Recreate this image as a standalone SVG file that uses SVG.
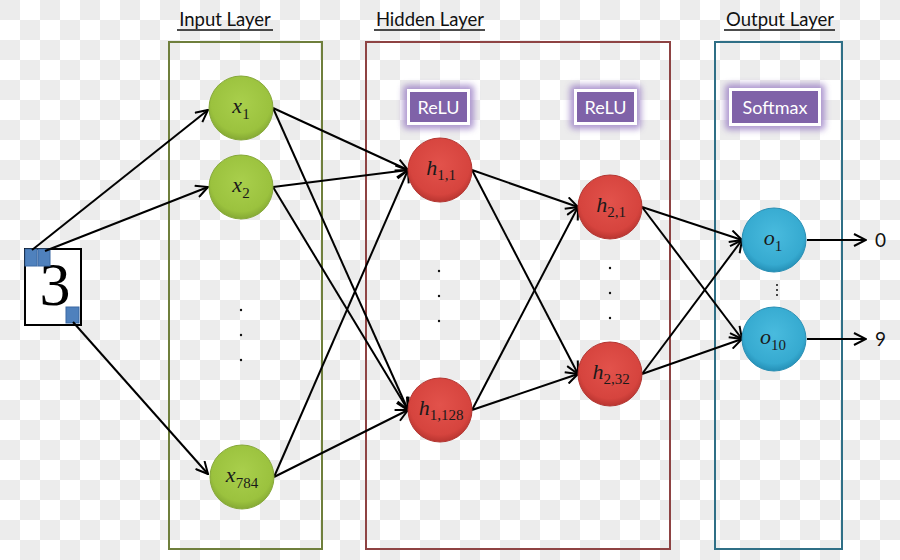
<svg xmlns="http://www.w3.org/2000/svg" width="900" height="560" viewBox="0 0 900 560">
<defs>
<pattern id="chk" width="40" height="40" patternUnits="userSpaceOnUse">
<rect width="40" height="40" fill="#ffffff"/>
<rect width="20" height="20" fill="#ececec"/>
<rect x="20" y="20" width="20" height="20" fill="#ececec"/>
</pattern>
<radialGradient id="gGreen" cx="50%" cy="42%" r="58%">
<stop offset="0" stop-color="#a9cf4c"/><stop offset="0.8" stop-color="#9bc23e"/><stop offset="1" stop-color="#85a934"/>
</radialGradient>
<radialGradient id="gRed" cx="50%" cy="42%" r="58%">
<stop offset="0" stop-color="#e2524b"/><stop offset="0.8" stop-color="#d6443e"/><stop offset="1" stop-color="#b93530"/>
</radialGradient>
<radialGradient id="gBlue" cx="50%" cy="42%" r="58%">
<stop offset="0" stop-color="#49bbde"/><stop offset="0.8" stop-color="#36aad0"/><stop offset="1" stop-color="#2590b7"/>
</radialGradient>
<filter id="glow" x="-30%" y="-40%" width="160%" height="180%">
<feGaussianBlur stdDeviation="3"/>
</filter>
<marker id="arr" viewBox="0 0 14 14" refX="13" refY="7" markerWidth="14" markerHeight="14" markerUnits="userSpaceOnUse" orient="auto">
<path d="M1,1 L13,7 L1,13" fill="none" stroke="#000" stroke-width="2" stroke-linejoin="miter"/>
</marker>
</defs>
<style>
.hdr{font-family:Lato,"Open Sans","Liberation Sans",sans-serif;font-size:18.5px;fill:#111;text-anchor:middle}
.ul{stroke:#111;stroke-width:1.3}
.lay{fill:none;stroke-width:2}
.edge{stroke:#000;stroke-width:2;fill:none;marker-end:url(#arr)}
.lbl{font-family:"Liberation Serif","DejaVu Serif",serif;font-size:22px;fill:#1a1a1a;text-anchor:middle}
.it{font-style:italic}
.sub{font-size:15px}
.act{fill:#7f62a8;stroke:#ffffff;stroke-width:3}
.actglow{fill:#9a7fc4;opacity:0.8}
.actt{font-family:Lato,"Open Sans","Liberation Sans",sans-serif;font-size:18px;fill:#ffffff;text-anchor:middle}
.dot{fill:#111}
.out{font-family:Lato,"Open Sans","Liberation Sans",sans-serif;font-size:19px;fill:#111}
.px{fill:#4f81bd;stroke:#3a69a3;stroke-width:1}
</style>
<rect width="900" height="560" fill="url(#chk)"/>

<g id="headers">
<text class="hdr" x="225" y="26">Input Layer</text>
<line class="ul" x1="177" y1="30" x2="273" y2="30"/>
<text class="hdr" x="430" y="26">Hidden Layer</text>
<line class="ul" x1="374" y1="30" x2="485" y2="30"/>
<text class="hdr" x="780" y="26">Output Layer</text>
<line class="ul" x1="724" y1="30" x2="835" y2="30"/>
</g>

<g id="layers">
<rect id="inputLayer" class="lay" x="169" y="42" width="153" height="507" stroke="#6f7f3c"/>
<rect id="hiddenLayer" class="lay" x="366" y="42" width="304" height="507" stroke="#8e4343"/>
<rect id="outputLayer" class="lay" x="715" y="42" width="127" height="507" stroke="#2f6f86"/>
</g>

<g id="image3">
<rect x="25" y="249" width="56" height="76" fill="#ffffff" stroke="#000" stroke-width="2"/>
<text x="55" y="305" font-family="Liberation Serif,DejaVu Serif,serif" font-size="62" text-anchor="middle" fill="#000">3</text>
<rect class="px" x="25" y="249" width="12" height="17"/>
<rect class="px" x="38" y="249" width="12" height="17"/>
<rect class="px" x="66" y="307" width="13" height="16"/>
</g>

<g id="connectors">
<line class="edge" x1="32" y1="250" x2="208" y2="110"/>
<line class="edge" x1="45" y1="251" x2="208" y2="187"/>
<line class="edge" x1="73" y1="322" x2="208" y2="474"/>

<line class="edge" x1="273" y1="108" x2="408" y2="170"/>
<line class="edge" x1="273" y1="108" x2="408" y2="410"/>
<line class="edge" x1="273" y1="187" x2="408" y2="170"/>
<line class="edge" x1="273" y1="187" x2="408" y2="410"/>
<line class="edge" x1="274" y1="477" x2="408" y2="170"/>
<line class="edge" x1="274" y1="477" x2="408" y2="410"/>

<line class="edge" x1="472" y1="170" x2="578" y2="207"/>
<line class="edge" x1="472" y1="170" x2="578" y2="374"/>
<line class="edge" x1="472" y1="410" x2="578" y2="207"/>
<line class="edge" x1="472" y1="410" x2="578" y2="374"/>

<line class="edge" x1="642" y1="207" x2="742" y2="240"/>
<line class="edge" x1="642" y1="207" x2="742" y2="339"/>
<line class="edge" x1="642" y1="374" x2="742" y2="240"/>
<line class="edge" x1="642" y1="374" x2="742" y2="339"/>

<line class="edge" x1="807" y1="240" x2="866" y2="240"/>
<line class="edge" x1="807" y1="339" x2="866" y2="339"/>
</g>

<g id="act1">
<rect class="actglow" x="403" y="85" width="71" height="44" rx="4" filter="url(#glow)"/>
<rect class="act" x="408.5" y="90.5" width="60" height="33"/>
<text class="actt" x="438.5" y="113.5">ReLU</text>
</g>
<g id="act2">
<rect class="actglow" x="570" y="85" width="71" height="44" rx="4" filter="url(#glow)"/>
<rect class="act" x="575.5" y="90.5" width="60" height="33"/>
<text class="actt" x="605.5" y="113.5">ReLU</text>
</g>
<g id="act3">
<rect class="actglow" x="725" y="84" width="100" height="46" rx="4" filter="url(#glow)"/>
<rect class="act" x="730.5" y="89.5" width="89" height="35"/>
<text class="actt" x="775" y="113.5">Softmax</text>
</g>

<g id="x1">
<circle cx="241" cy="108" r="32" fill="url(#gGreen)" stroke="#86a83a" stroke-width="1"/>
<text class="lbl" x="241" y="113"><tspan class="it">x</tspan><tspan class="sub" dy="6">1</tspan></text>
</g>
<g id="x2">
<circle cx="241" cy="187" r="32" fill="url(#gGreen)" stroke="#86a83a" stroke-width="1"/>
<text class="lbl" x="241" y="192"><tspan class="it">x</tspan><tspan class="sub" dy="6">2</tspan></text>
</g>
<g id="xdots">
<circle class="dot" cx="241" cy="310" r="1.2"/>
<circle class="dot" cx="241" cy="335" r="1.2"/>
<circle class="dot" cx="241" cy="360" r="1.2"/>
</g>
<g id="x784">
<circle cx="242" cy="477" r="32" fill="url(#gGreen)" stroke="#86a83a" stroke-width="1"/>
<text class="lbl" x="242" y="482"><tspan class="it">x</tspan><tspan class="sub" dy="6">784</tspan></text>
</g>

<g id="h11">
<circle cx="440" cy="170" r="32" fill="url(#gRed)" stroke="#b33632" stroke-width="1"/>
<text class="lbl" x="441" y="175"><tspan class="it">h</tspan><tspan class="sub" dy="5">1,1</tspan></text>
</g>
<g id="h1dots">
<circle class="dot" cx="439" cy="271" r="1.2"/>
<circle class="dot" cx="439" cy="296" r="1.2"/>
<circle class="dot" cx="439" cy="321" r="1.2"/>
</g>
<g id="h1128">
<circle cx="440" cy="410" r="32" fill="url(#gRed)" stroke="#b33632" stroke-width="1"/>
<text class="lbl" x="441" y="415"><tspan class="it">h</tspan><tspan class="sub" dy="5">1,128</tspan></text>
</g>

<g id="h21">
<circle cx="610" cy="207" r="32" fill="url(#gRed)" stroke="#b33632" stroke-width="1"/>
<text class="lbl" x="611" y="212"><tspan class="it">h</tspan><tspan class="sub" dy="5">2,1</tspan></text>
</g>
<g id="h2dots">
<circle class="dot" cx="610" cy="268" r="1.2"/>
<circle class="dot" cx="610" cy="293" r="1.2"/>
<circle class="dot" cx="610" cy="318" r="1.2"/>
</g>
<g id="h232">
<circle cx="610" cy="374" r="32" fill="url(#gRed)" stroke="#b33632" stroke-width="1"/>
<text class="lbl" x="611" y="379"><tspan class="it">h</tspan><tspan class="sub" dy="5">2,32</tspan></text>
</g>

<g id="o1">
<circle cx="774" cy="240" r="32" fill="url(#gBlue)" stroke="#2a8fb4" stroke-width="1"/>
<text class="lbl" x="773" y="245"><tspan class="it">o</tspan><tspan class="sub" dy="6">1</tspan></text>
</g>
<g id="odots">
<circle class="dot" cx="777" cy="285" r="1"/>
<circle class="dot" cx="777" cy="290" r="1"/>
<circle class="dot" cx="777" cy="295" r="1"/>
</g>
<g id="o10">
<circle cx="774" cy="339" r="32" fill="url(#gBlue)" stroke="#2a8fb4" stroke-width="1"/>
<text class="lbl" x="773" y="344"><tspan class="it">o</tspan><tspan class="sub" dy="6">10</tspan></text>
</g>

<g id="outputs">
<text class="out" x="875" y="247">0</text>
<text class="out" x="875" y="346">9</text>
</g>
</svg>
